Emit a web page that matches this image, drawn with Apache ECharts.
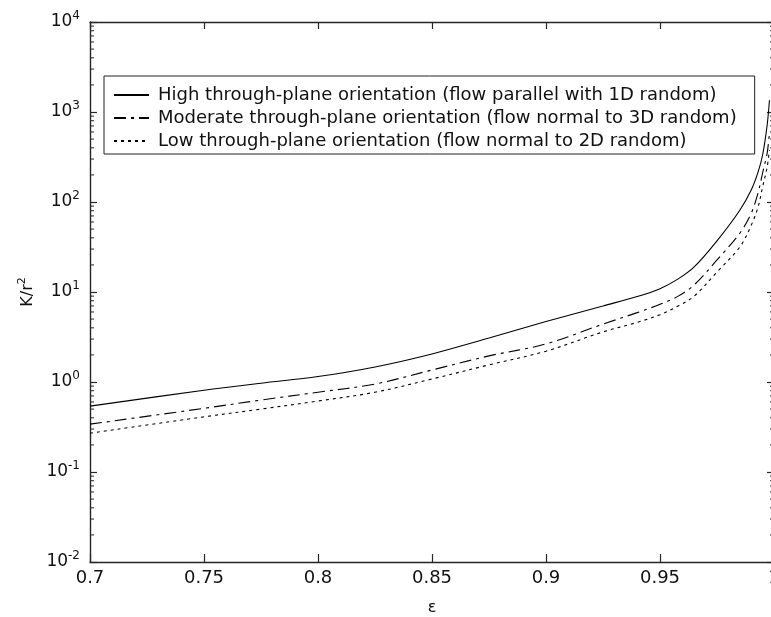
<!DOCTYPE html>
<html>
<head>
<meta charset="utf-8">
<script src="https://cdn.jsdelivr.net/npm/echarts@6/dist/echarts.min.js"></script>
<style>html,body{margin:0;padding:0;background:#fff;}#c{width:771px;height:617px;}</style>
</head>
<body>
<div id="c"></div>
<script>
const epsilon = [0.70, 0.75, 0.775, 0.80, 0.825, 0.85, 0.875, 0.90, 0.925, 0.94, 0.95, 0.958, 0.965, 0.975, 0.985, 0.99, 0.993, 0.995, 0.997, 0.998];
const highOrient = [0.54, 0.81, 0.97, 1.15, 1.47, 2.05, 3.08, 4.7, 7.0, 8.9, 10.9, 14.0, 19, 37, 81, 136, 215, 333, 718, 1350];
const moderateOrient = [0.34, 0.51, 0.63, 0.77, 0.95, 1.36, 1.95, 2.65, 4.4, 5.9, 7.3, 9.0, 12, 22.7, 45, 75, 126, 210, 350, 580];
const lowOrient = [0.27, 0.41, 0.50, 0.615, 0.77, 1.08, 1.55, 2.2, 3.6, 4.6, 5.6, 7.0, 9.0, 16.7, 31.6, 55, 88, 147, 245, 378];
const seriesNames = [
  'High through-plane orientation (flow parallel with 1D random)',
  'Moderate through-plane orientation (flow normal to 3D random)',
  'Low through-plane orientation (flow normal to 2D random)'
];
const xTicks = [0.7, 0.75, 0.8, 0.85, 0.9, 0.95, 1];
const minorMultipliers = [2, 3, 4, 5, 6, 7, 8, 9];
const decades = [-2, -1, 0, 1, 2, 3];

const minorValues = [];
decades.forEach(d => minorMultipliers.forEach(m => minorValues.push([0.7, m * Math.pow(10, d)])));

const FONT = 'DejaVu Sans';
const AX = '#262626';

function pairs(ys) { return epsilon.map((e, i) => [e, ys[i]]); }

const chart = echarts.init(document.getElementById('c'), null, {renderer: 'canvas'});
const yLabel = v => {
  const e = Math.round(Math.log10(v));
  return '{b|10}{s|' + e + '}';
};
const richY = {
  b: {fontFamily: FONT, fontSize: 17, color: '#111', lineHeight: 20},
  s: {fontFamily: FONT, fontSize: 12, color: '#111', padding: [0, 0, 12, 0], lineHeight: 20}
};
const lineSeries = (name, ys, type) => ({
  name, type: 'line', data: pairs(ys), showSymbol: false, symbol: 'none',
  smooth: 0.35, clip: true, animation: false,
  lineStyle: {color: '#000', width: 1.1, type: type},
  itemStyle: {color: '#000'}
});

chart.setOption({
  backgroundColor: '#fff',
  animation: false,
  grid: {left: 90, top: 22, width: 684, height: 540, containLabel: false, outerBoundsMode: 'none'},
  legend: {
    orient: 'vertical', left: 104, top: 76,
    data: seriesNames,
    backgroundColor: '#fff', borderColor: '#222', borderWidth: 1,
    padding: [9, 18, 3, 9], itemGap: 3, itemWidth: 35, itemHeight: 14,
    itemStyle: {opacity: 0},
    textStyle: {fontFamily: FONT, fontSize: 18, color: '#111', lineHeight: 20, padding: [0, 0, 0, 4]}
  },
  xAxis: [{
    type: 'value', min: 0.7, max: 1.0, interval: 0.05, position: 'bottom',
    name: 'ε', nameLocation: 'middle', nameGap: 38,
    nameTextStyle: {fontFamily: FONT, fontSize: 16, color: '#111'},
    axisLine: {show: true, lineStyle: {color: AX, width: 1.4}},
    axisTick: {show: true, inside: true, length: 8, lineStyle: {color: AX, width: 1.2}},
    axisLabel: {fontFamily: FONT, fontSize: 18, color: '#111', margin: 7,
      formatter: v => { const t = xTicks.find(x => Math.abs(x - v) < 1e-9); return t === undefined ? '' : String(t); }},
    splitLine: {show: false}
  }, {
    type: 'value', min: 0.7, max: 1.0, interval: 0.05, position: 'top',
    axisLine: {show: true, lineStyle: {color: AX, width: 1.4}},
    axisTick: {show: true, inside: true, length: 7, lineStyle: {color: AX, width: 1.2}},
    axisLabel: {show: false}, splitLine: {show: false}
  }],
  yAxis: [{
    type: 'log', logBase: 10, min: 0.01, max: 10000, splitNumber: 6, position: 'left',
    name: 'K/r{s|2}', nameLocation: 'middle', nameGap: 44, nameRotate: 90,
    nameTextStyle: {fontFamily: FONT, fontSize: 16, color: '#111',
      rich: {s: {fontFamily: FONT, fontSize: 11, color: '#111', padding: [0, 0, 10, 0]}}},
    axisLine: {show: true, lineStyle: {color: AX, width: 1.4}},
    axisTick: {show: true, inside: true, length: 7, lineStyle: {color: AX, width: 1.2}},
    axisLabel: {formatter: yLabel, rich: richY, margin: 10},
    splitLine: {show: false}
  }, {
    type: 'log', logBase: 10, min: 0.01, max: 10000, splitNumber: 6, position: 'right',
    axisLine: {show: true, lineStyle: {color: AX, width: 1.4}},
    axisTick: {show: true, inside: true, length: 7, lineStyle: {color: AX, width: 1.2}},
    axisLabel: {show: false}, splitLine: {show: false}
  }],
  series: [
    lineSeries(seriesNames[0], highOrient, 'solid'),
    lineSeries(seriesNames[1], moderateOrient, [12, 5, 3, 5]),
    lineSeries(seriesNames[2], lowOrient, [3, 4]),
    {
      type: 'custom', name: 'minorTicks', data: minorValues, silent: true, clip: false,
      renderItem: function (params, api) {
        const p = api.coord([api.value(0), api.value(1)]);
        const cs = params.coordSys;
        const len = 4;
        return {
          type: 'group',
          children: [
            {type: 'line', shape: {x1: cs.x, y1: p[1], x2: cs.x + len, y2: p[1]}, style: {stroke: AX, lineWidth: 1}},
            {type: 'line', shape: {x1: cs.x + cs.width - len, y1: p[1], x2: cs.x + cs.width, y2: p[1]}, style: {stroke: AX, lineWidth: 1}}
          ]
        };
      }
    }
  ]
});
</script>
</body>
</html>
